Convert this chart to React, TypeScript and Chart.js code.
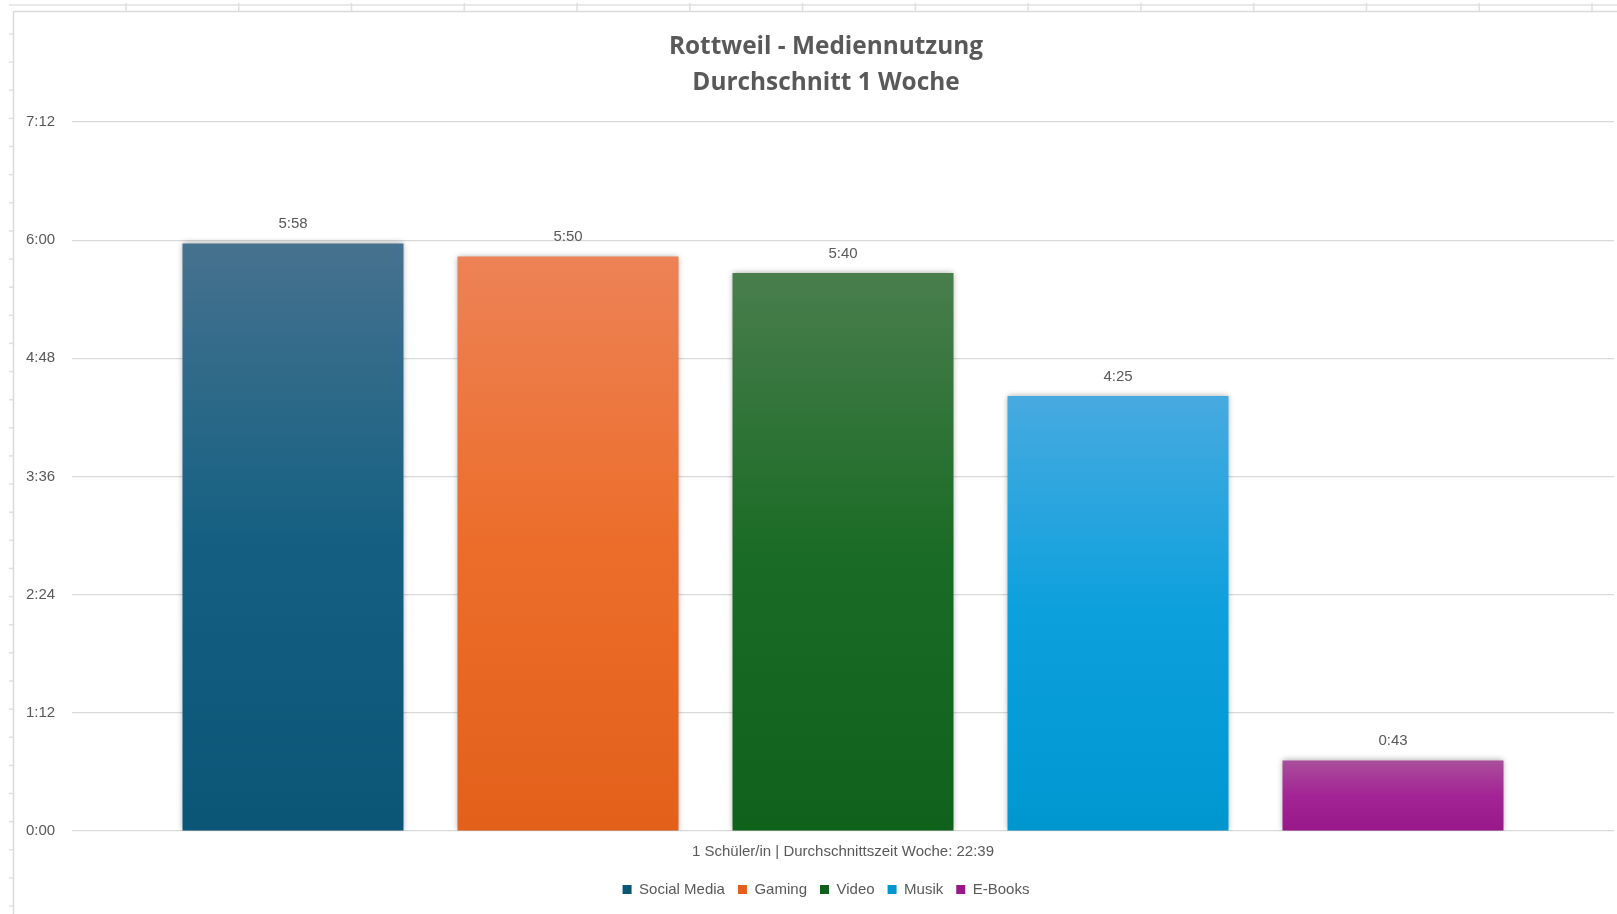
import React, { useEffect, useRef } from "react";
import { Chart, registerables } from "chart.js";

Chart.register(...registerables);

// ---- data ----
const categories = ["1 Schüler/in | Durchschnittszeit Woche: 22:39"];
const seriesNames = ["Social Media", "Gaming", "Video", "Musik", "E-Books"];
const seriesMinutes = [358, 350, 340, 265, 43]; // 5:58, 5:50, 5:40, 4:25, 0:43
const yMinMinutes = 0;
const yMaxMinutes = 432; // 7:12
const yStepMinutes = 72; // 1:12
const titleLines = ["Rottweil - Mediennutzung", "Durchschnitt 1 Woche"];

// ---- styles ----
const topColors = ["#46728F", "#ED8256", "#497E4D", "#47AAE0", "#AA4E9C"];
const midColors = ["#156082", "#EC6D2A", "#1A6B25", "#0CA0DD", "#A32494"];
const bottomColors = ["#0B5577", "#E2601A", "#10611B", "#0097D1", "#98188A"];

const TEXT = "#595959";
const FONT = '"Liberation Sans", Arial, sans-serif';
const TITLE_FONT = '"Open Sans", "Noto Sans", sans-serif';

const fmt = (m: number) => `${Math.floor(m / 60)}:${String(Math.round(m % 60)).padStart(2, "0")}`;

const makeGradient = (i: number) => (c: any) => {
  const chart = c.chart;
  const y = chart.scales && chart.scales.y;
  if (!y || c.raw == null || c.type !== "data") return midColors[i];
  const yTop = y.getPixelForValue(c.raw);
  const yBot = y.getPixelForValue(0);
  if (!isFinite(yTop) || !isFinite(yBot) || yTop === yBot) return midColors[i];
  const g = chart.ctx.createLinearGradient(0, yTop, 0, yBot);
  g.addColorStop(0, topColors[i]);
  g.addColorStop(0.5, midColors[i]);
  g.addColorStop(1, bottomColors[i]);
  return g;
};

const framePlugin = {
  id: "sheetFrame",
  afterLayout(chart: any) {
    // the original chart is a little wider than the visible crop: centre title & legend accordingly
    const shift = 6;
    if (chart.titleBlock) {
      chart.titleBlock.left += shift;
      chart.titleBlock.right += shift;
    }
    if (chart.legend) {
      chart.legend.left += shift;
      chart.legend.right += shift;
    }
  },
  beforeDraw(chart: any) {
    const ctx = chart.ctx;
    const W = chart.width;
    const H = chart.height;
    ctx.save();
    ctx.fillStyle = "#ffffff";
    ctx.fillRect(0, 0, W, H);
    ctx.strokeStyle = "#e0e0e0";
    ctx.lineWidth = 1.5;
    const line = (x1: number, y1: number, x2: number, y2: number) => {
      ctx.beginPath();
      ctx.moveTo(x1, y1);
      ctx.lineTo(x2, y2);
      ctx.stroke();
    };
    line(9, 5, W, 5);
    for (let x = 126; x < W; x += 112.77) line(x, 3, x, 11);
    for (let y = 34; y < H; y += 28.13) line(9, y, 13, y);
    ctx.strokeStyle = "#dadada";
    line(13.5, 11.5, W, 11.5);
    line(13.5, 11.5, 13.5, H);
    ctx.restore();
  },
};

const barDecorPlugin = {
  id: "barDecor",
  beforeDatasetsDraw(chart: any) {
    const ctx = chart.ctx;
    ctx.save();
    ctx.shadowColor = "rgba(0,0,0,0.35)";
    ctx.shadowBlur = 6;
    ctx.shadowOffsetX = 0;
    ctx.shadowOffsetY = 0;
  },
  afterDatasetsDraw(chart: any) {
    const ctx = chart.ctx;
    ctx.restore();
    ctx.save();
    ctx.font = `15px ${FONT}`;
    ctx.fillStyle = TEXT;
    ctx.textAlign = "center";
    ctx.textBaseline = "middle";
    chart.data.datasets.forEach((ds: any, i: number) => {
      const meta = chart.getDatasetMeta(i);
      meta.data.forEach((el: any, j: number) => {
        ctx.fillText(fmt(ds.data[j]), el.x, el.y - 19.5);
      });
    });
    ctx.restore();
  },
};

export default function App() {
  const ref = useRef<HTMLCanvasElement | null>(null);

  useEffect(() => {
    if (!ref.current) return;
    const chart = new Chart(ref.current, {
      type: "bar",
      data: {
        labels: categories,
        datasets: seriesNames.map((name, i) => ({
          label: name,
          data: [seriesMinutes[i]],
          backgroundColor: makeGradient(i),
          borderWidth: 0,
          categoryPercentage: 0.8917,
          barPercentage: 0.8036,
        })),
      },
      options: {
        animation: false,
        responsive: false,
        devicePixelRatio: 1,
        layout: { padding: { left: 26, right: 3, top: 0, bottom: 7 } },
        plugins: {
          title: {
            display: true,
            text: titleLines,
            color: TEXT,
            font: { family: TITLE_FONT, size: 24.4, weight: "bold", lineHeight: 36 / 24.4 },
            padding: { top: 29, bottom: 21 },
          },
          legend: {
            position: "bottom",
            labels: {
              boxWidth: 9,
              boxHeight: 9,
              padding: 13,
              color: TEXT,
              font: { family: FONT, size: 15 },
            },
          },
          tooltip: { enabled: false },
        },
        scales: {
          x: {
            grid: { display: false, drawTicks: false },
            border: { display: false },
            ticks: { color: TEXT, font: { family: FONT, size: 15 }, padding: 12 },
            afterFit: (s: any) => {
              s.height = 38;
            },
          },
          y: {
            min: yMinMinutes,
            max: yMaxMinutes,
            grid: { color: "#d9d9d9", lineWidth: 1.2, drawTicks: false },
            border: { display: false },
            ticks: {
              stepSize: yStepMinutes,
              color: TEXT,
              font: { family: FONT, size: 15 },
              crossAlign: "far",
              padding: 0,
              callback: (v: any) => fmt(Number(v)),
            },
            afterFit: (s: any) => {
              s.width = 46;
            },
          },
        },
      },
      plugins: [framePlugin, barDecorPlugin],
    });
    return () => chart.destroy();
  }, []);

  return (
    <div style={{ position: "absolute", left: 0, top: 0, width: 1617, height: 914, background: "#fff" }}>
      <canvas ref={ref} width={1617} height={914} style={{ display: "block" }} />
    </div>
  );
}
